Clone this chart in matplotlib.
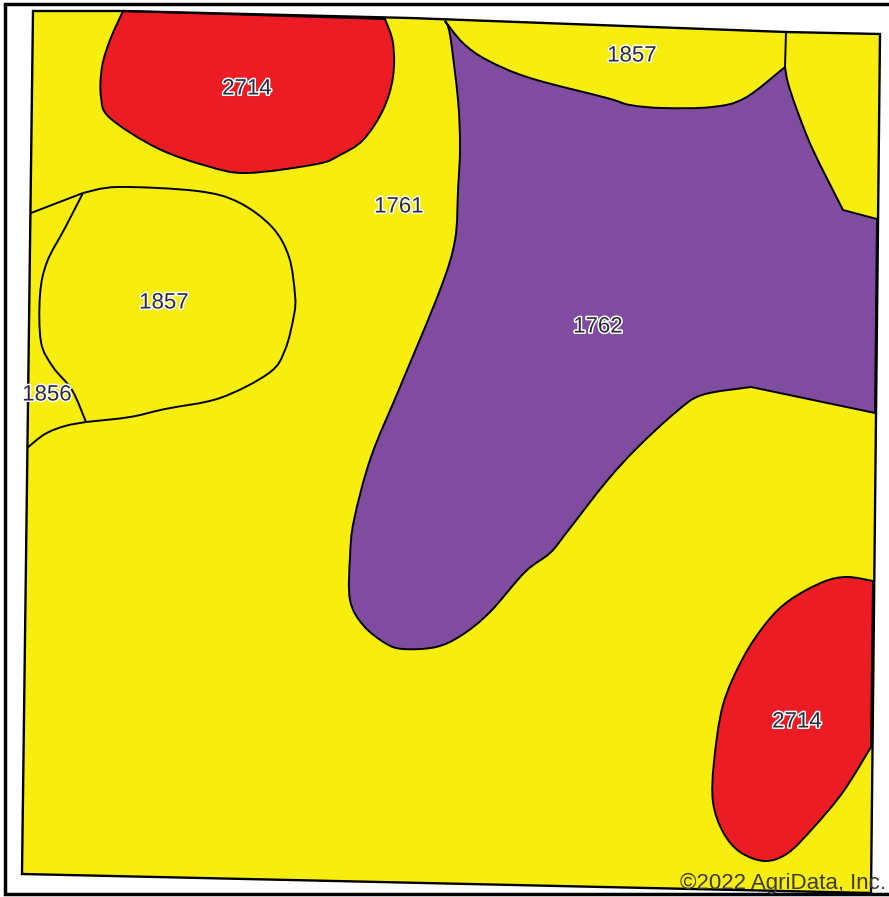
import matplotlib.pyplot as plt
import matplotlib.patheffects as pe
from matplotlib.path import Path
from matplotlib.patches import Polygon, PathPatch

YELLOW = '#f7ee0f'
PURPLE = '#7f4ca0'
RED = '#ec1c24'

# field outline and soil polygons, in image pixels
field = [(33,11),(123,11),(410,18),(786,32),(880,34),(871,893),(22,874)]

red_top = [(123,11),(385,19),(393,43),(393,77),(383,110),(363,140),(340,155),(317,164),(247,173),(207,166),(157,148),(110,118),(101,97),(102,67),(110,40)]
red_bot = [(873,581),(847,577),(823,582),(790,600),(767,622),(743,658),(723,705),(714,762),(713,802),(723,832),(740,852),(765,861),(788,853),(813,828),(843,792),(871,747)]
purple = [(445,21),(463,43),(487,60),(530,78),(607,98),(630,105),(663,108),(712,107),(745,98),(785,67),(788,83),(797,110),(813,150),(843,210),(877,219),(875,413),(751,387),(702,395),(676,412),(637,448),(606,482),(567,532),(550,553),(525,572),(490,612),(462,635),(436,647),(403,649),(385,643),(363,625),(350,600),(350,557),(354,520),(371,457),(400,387),(440,290),(455,240),(458,190),(460,147),(458,100),(450,35)]
circle_1857 = [(83,193),(118,187),(197,191),(238,202),(272,227),(289,257),(295,295),(294,315),(285,350),(269,373),(220,398),(165,409),(130,417),(86,422),(72,390),(53,367),(41,342),(40,295),(47,262),(65,228)]

# points where the boundary really has a corner
red_top_corners = [(123,11),(385,19),(871,747)]
red_bot_corners = [(873,581),(871,747)]
purple_corners = [(445,21),(785,67),(843,210),(877,219),(875,413),(751,387)]
circle_corners = [(83,193),(86,422)]

lines = [
    [(31,213),(83,193)],
    [(27,448),(45,434),(65,426),(86,422)],
    [(786,32),(785,67)],
]

labels = ['2714', '1857', '1761', '1857', '1762', '1856', '2714']
label_x = [247, 632, 399, 164, 598, 47, 797]
label_y = [89, 56, 207, 303, 327, 395, 722]


def smooth(pts, corners, closed=True):
    # catmull-rom pieces between corners, straight runs stay straight
    start = pts.index(corners[0])
    pts = pts[start:] + pts[:start]
    if closed:
        pts = pts + [pts[0]]
    verts = [pts[0]]
    codes = [Path.MOVETO]
    chain = [pts[0]]
    for p in pts[1:]:
        chain.append(p)
        if p in corners or p == pts[-1]:
            for i in range(len(chain)-1):
                a = chain[max(i-1,0)]
                b = chain[i]
                c = chain[i+1]
                d = chain[min(i+2,len(chain)-1)]
                verts.append((b[0]+(c[0]-a[0])/6, b[1]+(c[1]-a[1])/6))
                verts.append((c[0]-(d[0]-b[0])/6, c[1]-(d[1]-b[1])/6))
                verts.append(c)
                codes += [Path.CURVE4]*3
            chain = [p]
    return Path(verts, codes)


fig = plt.figure(figsize=(8.89,8.97), dpi=100)
ax = fig.add_axes([0,0,1,1])
ax.set_xlim(0,889)
ax.set_ylim(897,0)
ax.axis('off')

# page frame, open on the right
ax.plot([889,5,5,889],[4.4,4.4,894,894],color='black',lw=2.5,solid_joinstyle='miter')

ax.add_patch(Polygon(field,fc=YELLOW,ec='none'))
for pts,corners,col in [(red_top,red_top_corners,RED),(red_bot,red_bot_corners,RED),
                        (purple,purple_corners,PURPLE),(circle_1857,circle_corners,YELLOW)]:
    ax.add_patch(PathPatch(smooth(pts,corners),fc=col,ec='black',lw=1.4,joinstyle='round'))
for l in lines:
    ax.add_patch(PathPatch(smooth(l,[l[0],l[-1]],closed=False),fill=False,ec='black',lw=1.4))
ax.add_patch(Polygon(field,fill=False,ec='black',lw=1.7))

for s,x,y in zip(labels,label_x,label_y):
    ax.text(x,y,s,ha='center',va='center',fontsize=16,color='#2a2a3c',family='Liberation Sans',
            path_effects=[pe.withStroke(linewidth=2.2,foreground='white')])

ax.text(886,889,'©2022 AgriData, Inc.',ha='right',va='baseline',fontsize=16,color='#3c3c3c',family='Liberation Sans')

fig.savefig('out.png',dpi=100)
